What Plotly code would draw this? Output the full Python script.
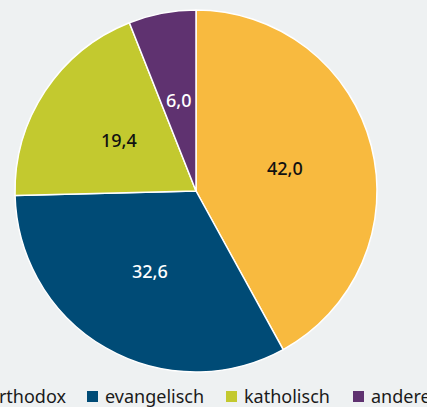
import math
import plotly.graph_objects as go

categories = ["orthodox", "evangelisch", "katholisch", "andere"]
values = [42.0, 32.6, 19.4, 6.0]
colors = ["#F8BA3F", "#004B76", "#C3C92F", "#5F3270"]
text_colors = ["#111111", "#FFFFFF", "#111111", "#FFFFFF"]
labels_text = [f"{v:.1f}".replace(".", ",") for v in values]

W, H = 427, 407
FONT = "Noto Sans"
CX, CY, R = 196, 191, 181  # pie centre / radius in pixels (layout)

fig = go.Figure(go.Pie(
    labels=categories,
    values=values,
    textinfo="none",
    marker=dict(colors=colors, line=dict(color="#FFFFFF", width=1.5)),
    sort=False,
    direction="clockwise",
    rotation=0,
    domain=dict(x=[(CX - R) / W, (CX + R) / W], y=[1 - (CY + R) / H, 1 - (CY - R) / H]),
    showlegend=False,
    hoverinfo="label+value",
))

annotations = []
# value labels at half radius along each slice's mid angle
total = sum(values)
cum = 0.0
for v, t, tc in zip(values, labels_text, text_colors):
    mid = (cum + v / 2) / total * 2 * math.pi
    cum += v
    px = CX + 0.51 * R * math.sin(mid)
    py = CY - 0.51 * R * math.cos(mid)
    annotations.append(dict(
        text=t, xref="paper", yref="paper", x=px / W, y=1 - py / H,
        xanchor="center", yanchor="middle", showarrow=False,
        font=dict(family=FONT, size=18, color=tc, weight=500),
    ))

# custom legend (wider than the canvas, clipped at both sides like the reference)
text_x = [-14, 103, 242, 369]
legend_y = 396
shapes = []
for cat, col, tx in zip(categories, colors, text_x):
    shapes.append(dict(
        type="rect", xref="paper", yref="paper",
        x0=(tx - 16) / W, x1=(tx - 5) / W,
        y0=1 - 402 / H, y1=1 - 391 / H,
        fillcolor=col, line=dict(width=0),
    ))
    annotations.append(dict(
        text=cat, xref="paper", yref="paper",
        x=tx / W, y=1 - legend_y / H, xanchor="left", yanchor="middle",
        showarrow=False, font=dict(family=FONT, size=18, color="#1A1A1A"),
    ))

fig.update_layout(
    width=W, height=H,
    margin=dict(l=0, r=0, t=0, b=0),
    paper_bgcolor="#EEF1F2",
    plot_bgcolor="#EEF1F2",
    shapes=shapes,
    annotations=annotations,
)

fig.write_html(
    "out.html",
    config={"displayModeBar": False},
    post_script="document.body.style.margin='0';document.body.style.overflow='hidden';",
)
